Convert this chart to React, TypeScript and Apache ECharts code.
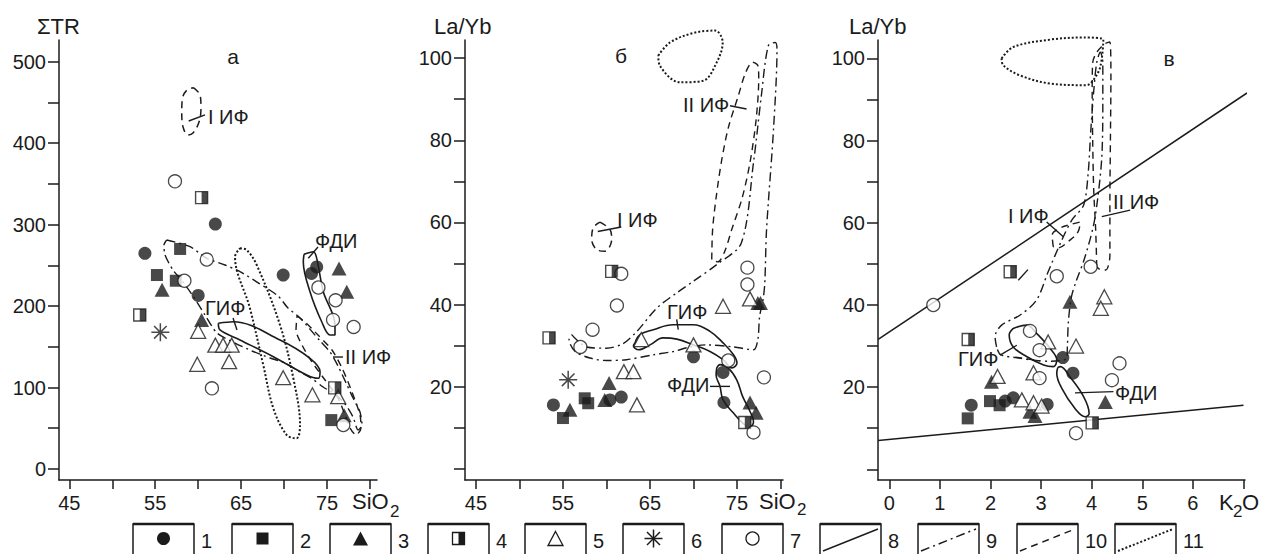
import React, { useEffect, useRef } from "react";
import * as echarts from "echarts";

const INK = "#1b1b1b";
const FONT = '"Liberation Sans", Arial, Helvetica, sans-serif';

// ---------------- Panel а : ΣTR vs SiO2 ----------------
const aXTicks = [45, 50, 55, 60, 65, 70, 75, 80];
const aXLabels = [45, 55, 65, 75];
const aYTicks = [0, 50, 100, 150, 200, 250, 300, 350, 400, 450, 500];
const aYLabels = [0, 100, 200, 300, 400, 500];

const aType1 = [[62.0, 300.6], [53.8, 264.7], [69.9, 238], [73.8, 248], [73.2, 240], [60.0, 213]];
const aType2 = [[57.9, 270], [55.2, 238], [57.4, 231], [75.5, 60]];
const aType3 = [[76.4, 246], [55.8, 220], [60.4, 182.8], [77.3, 217.6], [77.0, 66]];
const aType4 = [[60.4, 333], [53.2, 189], [75.9, 99.5]];
const aType5 = [[60.0, 169], [62.0, 152], [62.9, 152], [63.9, 152], [63.6, 131.7], [59.9, 128.5], [69.9, 112], [73.3, 91], [76.3, 88.7]];
const aType6 = [[55.6, 167.7]];
const aType7 = [[57.3, 353], [61.0, 257], [58.4, 231], [61.6, 99], [74.0, 222.7], [76.0, 207], [75.7, 183], [78.1, 174.3], [76.9, 54]];

const aFieldIIF = [[59.44, 467.9], [60.22, 458.9], [60.33, 442.9], [60.10, 425.8], [59.40, 412.3], [58.82, 409.8], [58.24, 419.6], [58.09, 438.0], [58.18, 455.2], [58.70, 465.0], [59.44, 467.9]];
const aFieldDotted = [[64.87, 270.8], [65.65, 268.7], [66.82, 250.3], [69.53, 176.7], [71.08, 111.3], [71.86, 54.0], [71.47, 37.7], [70.31, 41.7], [68.75, 74.5], [67.58, 127.6], [66.03, 197.2], [64.29, 260.5], [64.87, 270.8]];
const aFieldGIF = [[62.35, 178.8], [64.09, 180.7], [69.53, 158.3], [73.02, 135.8], [74.19, 119.4], [73.99, 111.3], [72.64, 115.3], [68.75, 137.8], [64.87, 158.3], [62.54, 170.6], [62.35, 178.8]];
const aFieldFDI = [[72.32, 263.4], [73.41, 266.6], [73.80, 258.5], [74.57, 217.5], [75.93, 176.7], [75.93, 164.4], [75.35, 164.4], [74.38, 180.7], [73.02, 217.5], [72.24, 254.4], [72.32, 263.4]];
const aFieldDashDot = [[56.34, 281.0], [59.05, 272.8], [61.0, 258.5], [63.13, 250.3], [64.87, 242.1], [66.85, 229.4], [69.3, 212.3], [70.46, 197.5], [71.86, 185.3], [74.19, 157.1], [75.35, 143.6], [76.28, 126.4], [77.33, 103.1], [78.03, 87.1], [78.84, 69.9], [79.07, 54.0], [78.61, 47.9], [78.03, 63.8], [77.1, 79.8], [75.93, 92.0], [74.54, 100.6], [73.14, 111.7], [71.86, 119.0], [70.11, 130.1], [68.37, 136.2], [66.27, 144.8], [64.29, 154.6], [62.19, 166.9], [60.8, 189.0], [59.4, 212.3], [58.24, 229.4], [57.07, 244.2], [56.14, 262.6], [56.02, 274.8], [56.34, 281.0]];
const aFieldDashed = [[71.51, 187.7], [72.44, 180.4], [73.95, 164.4], [75.58, 146.0], [76.75, 123.9], [77.91, 94.5], [78.84, 66.3], [78.96, 50.3], [78.38, 41.7], [77.68, 50.3], [77.1, 66.3], [76.28, 87.1], [74.77, 109.2], [73.25, 131.3], [72.09, 152.1], [71.39, 170.6], [71.51, 187.7]];
const aLeadIIF = [[58.9, 427], [60.8, 434.5]];
const aLeadFDI = [[72.82, 258.5], [73.95, 272.4]];
const aLeadGIF = [[64.06, 185.3], [64.52, 170.6]];
const aLeadIIIF = [[75.7, 137.4], [76.86, 137.4]];

// ---------------- Panel б : La/Yb vs SiO2 ----------------
const bXTicks = [45, 50, 55, 60, 65, 70, 75, 80];
const bXLabels = [45, 55, 65, 75];
const bYTicks = [0, 10, 20, 30, 40, 50, 60, 70, 80, 90, 100];
const bYLabels = [20, 40, 60, 80, 100];

const bType1 = [[53.9, 15.6], [60.4, 16.8], [61.7, 17.5], [70.0, 27.3], [73.4, 23.5], [73.5, 16.2]];
const bType2 = [[55.0, 12.4], [57.5, 17.2], [57.9, 16.0]];
const bType3 = [[55.8, 14.4], [60.3, 20.9], [59.8, 16.8], [76.5, 16.2], [77.2, 13.7], [77.4, 40.4], [77.7, 40.4]];
const bType4 = [[60.6, 48.1], [53.4, 31.9], [75.9, 11.3]];
const bType5 = [[62.0, 23.7], [63.1, 23.7], [63.5, 15.6], [64.0, 31.5], [70.0, 30.2], [73.4, 39.6], [76.5, 41.4]];
const bType6 = [[55.6, 21.7]];
const bType7 = [[61.7, 47.5], [61.2, 39.8], [58.4, 33.9], [57.0, 29.7], [74.0, 26.4], [76.9, 8.9], [78.1, 22.3], [76.2, 49.0], [76.2, 44.9]];

const bFieldIIF = [[59.25, 60.07], [60.4, 58.29], [60.6, 55.85], [59.83, 53.0], [58.87, 53.4], [58.3, 55.85], [58.48, 58.7], [59.25, 60.07]];
const bFieldDotted = [[65.95, 100.6], [67.3, 103.8], [69.98, 106.1], [72.47, 106.7], [73.36, 103.8], [72.67, 98.95], [71.13, 94.5], [68.45, 94.1], [66.15, 98.1], [65.95, 100.6]];
const bFieldDashed = [[72.1, 51.0], [72.2, 58.3], [72.6, 66], [73.2, 74.6], [74.0, 83], [75.15, 90.8], [76.0, 96.5], [76.8, 99.0], [77.4, 98.2], [77.5, 95], [77.2, 85], [76.5, 74.6], [75.6, 66], [74.4, 58.3], [73.6, 53], [72.8, 50.4], [72.1, 51.0]];
const bFieldDashDot = [[56.0, 32.7], [57.7, 29.7], [60.0, 29.4], [61.9, 30.5], [63.5, 33.5], [65.8, 39.2], [68.1, 42.9], [70.0, 45.7], [72.7, 49.8], [75.5, 55.0], [76.9, 74.6], [77.8, 90.8], [78.6, 103.0], [79.4, 103.8], [79.6, 102.2], [79.2, 82.7], [78.4, 58.3], [78.2, 45.4], [78.0, 41.2], [77.6, 37.1], [77.4, 31.5], [76.9, 29.0], [74.6, 29.7], [71.5, 30.2], [69.6, 29.7], [67.7, 28.6], [65.4, 27.8], [62.3, 26.6], [60.0, 26.4], [58.1, 27.0], [56.4, 28.6], [55.7, 31.5], [56.0, 32.7]];
const bFieldGIF = [[63.28, 30.66], [63.85, 32.68], [65.38, 33.9], [67.68, 35.1], [69.98, 35.1], [71.9, 33.5], [73.4, 30.7], [74.6, 27.8], [75.0, 25.8], [74.4, 24.6], [73.4, 26.6], [71.9, 28.6], [70.0, 30.2], [68.1, 31.6], [66.5, 31.9], [65.0, 30.2], [63.7, 29.0], [63.1, 30.0], [63.28, 30.66]];
const bFieldFDI = [[72.67, 24.56], [73.05, 25.4], [74.0, 24.56], [74.97, 21.7], [75.66, 17.6], [76.5, 14.0], [76.9, 11.5], [76.5, 10.3], [75.7, 11.1], [74.6, 13.6], [73.4, 16.8], [73.05, 20.1], [72.6, 22.9], [72.67, 24.56]];
const bLeadIIF = [[59.0, 57.8], [61.7, 58.9]];
const bLeadIIIF = [[74.2, 88.4], [76.1, 87.6]];
const bLeadGIF = [[68.07, 36.4], [68.25, 33.9]];
const bLeadFDI = [[71.9, 20.1], [74.2, 20.1]];

// ---------------- Panel в : La/Yb vs K2O ----------------
const cXTicks = [0, 1, 2, 3, 4, 5, 6, 7];
const cXLabels = [0, 1, 2, 3, 4, 5, 6];
const cYTicks = [0, 10, 20, 30, 40, 50, 60, 70, 80, 90, 100];
const cYLabels = [20, 40, 60, 80, 100];

const cType1 = [[3.43, 27.2], [3.63, 23.4], [1.62, 15.6], [2.29, 16.6], [2.45, 17.4], [3.12, 15.8]];
const cType2 = [[1.55, 12.4], [1.99, 16.6], [2.18, 15.6]];
const cType3 = [[3.57, 40.8], [2.02, 21.3], [4.27, 16.4], [2.78, 14.0], [2.88, 13.0]];
const cType4 = [[2.39, 48.1], [1.56, 31.6], [4.01, 11.3]];
const cType5 = [[4.25, 42.0], [4.18, 39.2], [3.14, 31.0], [3.69, 30.0], [2.85, 23.5], [2.14, 22.6], [2.62, 16.9], [2.85, 16.2], [3.01, 15.4]];
const cType7 = [[3.31, 47.0], [3.98, 49.3], [0.87, 40.0], [2.78, 33.7], [2.97, 29.0], [2.97, 22.2], [4.55, 25.8], [4.4, 21.7], [3.69, 8.8]];

const cLineUpper = [[-0.22, 31.6], [7.07, 91.6]];
const cLineLower = [[-0.22, 7.0], [7.0, 15.6]];
const cFieldDotted = [[2.22, 100.0], [2.45, 102.8], [3.18, 104.6], [3.84, 105.1], [4.23, 104.6], [4.17, 98.0], [4.03, 94.7], [3.9, 93.5], [3.18, 93.9], [2.58, 95.9], [2.25, 98.4], [2.22, 100.0]];
const cFieldDashDot = [[2.12, 29.8], [2.09, 32.3], [2.22, 35.1], [2.58, 37.5], [2.91, 41.2], [3.14, 48.1], [3.41, 55.8], [3.61, 60.7], [3.84, 64.3], [3.93, 72], [3.98, 82], [4.04, 92], [4.1, 99], [4.17, 101.5], [4.22, 99], [4.22, 88], [4.2, 76], [4.12, 66], [4.03, 59], [3.85, 51], [3.7, 46], [3.6, 42], [3.54, 36], [3.52, 30], [3.5, 27], [3.2, 26.3], [2.9, 26.5], [2.5, 27.2], [2.2, 27.9], [2.12, 29.8]];
const cFieldDashed = [[4.1, 49.3], [4.08, 58], [4.04, 68], [4.02, 80], [4.01, 92], [4.02, 99], [4.1, 101.5], [4.25, 103.5], [4.36, 104], [4.38, 95], [4.37, 80], [4.36, 65], [4.36, 52], [4.28, 48.5], [4.17, 48.6], [4.1, 49.3]];
const cFieldIIF = [[3.24, 54.2], [3.22, 57.0], [3.37, 58.7], [3.61, 59.7], [3.77, 60.2], [3.73, 57.8], [3.53, 55.4], [3.34, 53.9], [3.24, 54.2]];
const cFieldGIF = [[2.45, 34.3], [2.72, 35.1], [2.91, 33.1], [3.18, 29.4], [3.31, 26.6], [3.24, 25.0], [3.05, 25.4], [2.72, 27.4], [2.45, 29.8], [2.37, 32.7], [2.45, 34.3]];
const cFieldFDI = [[3.33, 24.8], [3.38, 25.0], [3.57, 22.5], [3.84, 17.7], [3.95, 13.6], [3.87, 12.8], [3.67, 14.8], [3.41, 19.7], [3.31, 23.4], [3.33, 24.8]];
const cLeadIIF = [[3.11, 60.2], [3.44, 56.6]];
const cLeadIIIF = [[4.2, 61.5], [4.76, 63.1]];
const cLeadGIF = [[2.19, 27.8], [2.52, 30.2]];
const cLeadGIF2 = [[2.49, 27.3], [2.98, 26.4]];
const cLeadFDI = [[3.67, 18.6], [4.43, 18.9]];
const cLeadHalf = [[2.55, 46.0], [2.74, 48.6]];

const legendNumbers = ["1", "2", "3", "4", "5", "6", "7", "8", "9", "10", "11"];

// ---------------- styling helpers ----------------
const DASHDOT = [9, 4, 2, 4];
const DASHED = [7, 5];
const DOTTED = [2, 2];
const ASTERISK = "path://M10 0 L10 20 M0 10 L20 10 M3 3 L17 17 M3 17 L17 3";

function marks(g: number, data: number[][], kind: number): any[] {
  const base = { type: "scatter", xAxisIndex: g, yAxisIndex: g, data, z: 5, silent: true };
  switch (kind) {
    case 1:
      return [{ ...base, symbol: "circle", symbolSize: 13, itemStyle: { color: INK } }];
    case 2:
      return [{ ...base, symbol: "rect", symbolSize: 12, itemStyle: { color: INK } }];
    case 3:
      return [{ ...base, symbol: "triangle", symbolSize: [15, 14], itemStyle: { color: INK } }];
    case 4:
      return [
        { ...base, symbol: "rect", symbolSize: 12, itemStyle: { color: "#fff", borderColor: INK, borderWidth: 1.4 } },
        { ...base, z: 6, symbol: "rect", symbolSize: [6, 12], symbolOffset: [3, 0], itemStyle: { color: INK } },
      ];
    case 5:
      return [{ ...base, symbol: "triangle", symbolSize: [15, 14], itemStyle: { color: "#fff", borderColor: INK, borderWidth: 1.3 } }];
    case 6:
      return [{ ...base, symbol: ASTERISK, symbolSize: 18, itemStyle: { color: "rgba(0,0,0,0)", borderColor: INK, borderWidth: 1.5 } }];
    default:
      return [{ ...base, symbol: "circle", symbolSize: 13, itemStyle: { color: "#fff", borderColor: INK, borderWidth: 1.3 } }];
  }
}

function outline(g: number, data: number[][], dash: any, width = 1.5, smooth: any = 0.35): any {
  return {
    type: "line",
    xAxisIndex: g,
    yAxisIndex: g,
    data,
    symbol: "none",
    smooth,
    clip: false,
    silent: true,
    z: 3,
    lineStyle: { color: INK, width, type: dash },
  };
}

function xAxis(g: number, min: number, max: number, ticks: number[], labels: number[]) {
  return {
    gridIndex: g,
    type: "value",
    min,
    max,
    axisLine: { show: true, onZero: false, lineStyle: { color: INK, width: 1.5 } },
    axisTick: { show: true, length: 9, customValues: ticks, lineStyle: { color: INK, width: 1.5 } },
    axisLabel: { customValues: labels, margin: 13, fontSize: 20, color: INK, fontFamily: FONT },
    splitLine: { show: false },
  };
}

function yAxis(g: number, min: number, max: number, ticks: number[], labels: number[]) {
  return {
    gridIndex: g,
    type: "value",
    min,
    max,
    axisLine: { show: true, onZero: false, lineStyle: { color: INK, width: 1.5 } },
    axisTick: { show: true, length: 11, customValues: ticks, lineStyle: { color: INK, width: 1.5 } },
    axisLabel: { customValues: labels, margin: 13, fontSize: 20, color: INK, fontFamily: FONT },
    splitLine: { show: false },
  };
}

function txt(text: string, x: number, y: number, size = 20, align = "left"): any {
  return {
    type: "text",
    x,
    y,
    z: 20,
    silent: true,
    style: { text, font: `${size}px ${FONT}`, fill: INK, textAlign: align, textVerticalAlign: "middle" },
  };
}

function legendGraphics(): any[] {
  const out: any[] = [];
  const boxX = [133, 232, 330, 428, 525, 623, 722, 820, 918, 1017, 1115];
  const top = 524;
  const w = 61;
  boxX.forEach((x, i) => {
    out.push({
      type: "rect",
      shape: { x, y: top, width: w, height: 40 },
      style: { fill: "#fff", stroke: INK, lineWidth: 1.5 },
      z: 20,
      silent: true,
    });
    out.push({
      type: "line",
      shape: { x1: x, y1: top, x2: x + w, y2: top },
      style: { stroke: INK, lineWidth: 2.5 },
      z: 21,
      silent: true,
    });
    const cx = x + w / 2;
    const cy = 538.5;
    const ink = { fill: INK };
    const hollow = { fill: "#fff", stroke: INK, lineWidth: 1.3 };
    const icons: any[] = [];
    switch (i) {
      case 0:
        icons.push({ type: "circle", shape: { cx, cy, r: 6.5 }, style: ink });
        break;
      case 1:
        icons.push({ type: "rect", shape: { x: cx - 6, y: cy - 6, width: 12, height: 12 }, style: ink });
        break;
      case 2:
        icons.push({ type: "polygon", shape: { points: [[cx, cy - 7], [cx + 7.5, cy + 7], [cx - 7.5, cy + 7]] }, style: ink });
        break;
      case 3:
        icons.push({ type: "rect", shape: { x: cx - 6, y: cy - 6, width: 12, height: 12 }, style: hollow });
        icons.push({ type: "rect", shape: { x: cx, y: cy - 6, width: 6, height: 12 }, style: ink });
        break;
      case 4:
        icons.push({ type: "polygon", shape: { points: [[cx, cy - 7], [cx + 7.5, cy + 7], [cx - 7.5, cy + 7]] }, style: hollow });
        break;
      case 5: {
        const st = { stroke: INK, lineWidth: 1.5 };
        icons.push({ type: "line", shape: { x1: cx, y1: cy - 9, x2: cx, y2: cy + 9 }, style: st });
        icons.push({ type: "line", shape: { x1: cx - 9, y1: cy, x2: cx + 9, y2: cy }, style: st });
        icons.push({ type: "line", shape: { x1: cx - 6.5, y1: cy - 6.5, x2: cx + 6.5, y2: cy + 6.5 }, style: st });
        icons.push({ type: "line", shape: { x1: cx - 6.5, y1: cy + 6.5, x2: cx + 6.5, y2: cy - 6.5 }, style: st });
        break;
      }
      case 6:
        icons.push({ type: "circle", shape: { cx, cy, r: 6.5 }, style: hollow });
        break;
      default: {
        const dash = [null, null, null, null, null, null, null, null, DASHDOT, DASHED, DOTTED][i];
        const wid = i === 10 ? 2 : 1.5;
        const style: any = { stroke: INK, lineWidth: wid };
        if (dash) style.lineDash = dash;
        icons.push({
          type: "line",
          shape: { x1: x + 3, y1: 551, x2: x + w - 3, y2: 529 },
          style,
        });
      }
    }
    icons.forEach((el, k) => {
      el.z = 22 + k;
      el.silent = true;
      out.push(el);
    });
    out.push(txt(legendNumbers[i], x + w + 7, 541, 20));
  });
  return out;
}

export default function App() {
  const ref = useRef<HTMLDivElement>(null);
  useEffect(() => {
    if (!ref.current) return;
    const chart = echarts.init(ref.current, undefined, { renderer: "svg" });

    const series: any[] = [
      // panel а
      outline(0, aFieldIIF, DASHED),
      outline(0, aFieldDotted, DOTTED, 2),
      outline(0, aFieldGIF, "solid", 1.6),
      outline(0, aFieldFDI, "solid", 1.6),
      outline(0, aFieldDashDot, DASHDOT, 1.4, 0.25),
      outline(0, aFieldDashed, DASHED, 1.4, 0.25),
      outline(0, aLeadIIF, "solid", 1.4, false),
      outline(0, aLeadFDI, "solid", 1.4, false),
      outline(0, aLeadGIF, "solid", 1.4, false),
      outline(0, aLeadIIIF, "solid", 1.4, false),
      ...marks(0, aType1, 1),
      ...marks(0, aType2, 2),
      ...marks(0, aType3, 3),
      ...marks(0, aType4, 4),
      ...marks(0, aType5, 5),
      ...marks(0, aType6, 6),
      ...marks(0, aType7, 7),
      // panel б
      outline(1, bFieldIIF, DASHED),
      outline(1, bFieldDotted, DOTTED, 2),
      outline(1, bFieldDashed, DASHED, 1.4, 0.3),
      outline(1, bFieldDashDot, DASHDOT, 1.4, 0.3),
      outline(1, bFieldGIF, "solid", 1.6, 0.4),
      outline(1, bFieldFDI, "solid", 1.6, 0.4),
      outline(1, bLeadIIF, "solid", 1.4, false),
      outline(1, bLeadIIIF, "solid", 1.4, false),
      outline(1, bLeadGIF, "solid", 1.4, false),
      outline(1, bLeadFDI, "solid", 1.4, false),
      ...marks(1, bType1, 1),
      ...marks(1, bType2, 2),
      ...marks(1, bType3, 3),
      ...marks(1, bType4, 4),
      ...marks(1, bType5, 5),
      ...marks(1, bType6, 6),
      ...marks(1, bType7, 7),
      // panel в
      outline(2, cLineUpper, "solid", 1.5, false),
      outline(2, cLineLower, "solid", 1.5, false),
      outline(2, cFieldDotted, DOTTED, 2),
      outline(2, cFieldDashDot, DASHDOT, 1.4, 0.3),
      outline(2, cFieldDashed, DASHED, 1.4, 0.3),
      outline(2, cFieldIIF, DASHED, 1.4, 0.4),
      outline(2, cFieldGIF, "solid", 1.6, 0.4),
      outline(2, cFieldFDI, "solid", 1.6, 0.4),
      outline(2, cLeadIIF, "solid", 1.4, false),
      outline(2, cLeadIIIF, "solid", 1.4, false),
      outline(2, cLeadGIF, "solid", 1.4, false),
      outline(2, cLeadGIF2, DASHED, 1.4, false),
      outline(2, cLeadFDI, "solid", 1.4, false),
      outline(2, cLeadHalf, "solid", 1.4, false),
      ...marks(2, cType1, 1),
      ...marks(2, cType2, 2),
      ...marks(2, cType3, 3),
      ...marks(2, cType4, 4),
      ...marks(2, cType5, 5),
      ...marks(2, cType7, 7),
    ];

    const graphic: any[] = [
      // axis names
      txt("ΣTR", 37, 26, 22),
      txt("La/Yb", 434, 26, 22),
      txt("La/Yb", 849, 26, 22),
      txt("SiO", 352, 501, 22),
      txt("2", 390, 511, 17),
      txt("SiO", 759, 501, 22),
      txt("2", 797, 509, 17),
      txt("K", 1219, 502, 22),
      txt("2", 1233, 511, 17),
      txt("O", 1242, 502, 22),
      // panel letters
      txt("а", 233, 56, 21, "center"),
      txt("б", 621, 55, 21, "center"),
      txt("в", 1169, 58, 21, "center"),
      // field labels а
      txt("I ИФ", 208, 117),
      txt("ФДИ", 315, 241),
      txt("ГИФ", 205, 308),
      txt("II ИФ", 345, 357),
      // field labels б
      txt("I ИФ", 617, 220),
      txt("II ИФ", 683, 105),
      txt("ГИФ", 667, 312),
      txt("ФДИ", 667, 385),
      // field labels в
      txt("I ИФ", 1008, 216),
      txt("II ИФ", 1113, 202),
      txt("ГИФ", 958, 359),
      txt("ФДИ", 1115, 393),
      ...legendGraphics(),
    ];

    chart.setOption({
      animation: false,
      backgroundColor: "#fff",
      grid: [
        { left: 59, top: 40, width: 318, height: 440, containLabel: false },
        { left: 465, top: 40, width: 318, height: 440, containLabel: false },
        { left: 878, top: 40, width: 367, height: 440, containLabel: false },
      ],
      xAxis: [
        xAxis(0, 43.8, 80.82, aXTicks, aXLabels),
        xAxis(1, 43.74, 80.29, bXTicks, bXLabels),
        xAxis(2, -0.223, 7.03, cXTicks, cXLabels),
      ],
      yAxis: [
        yAxis(0, -13.5, 526.4, aYTicks, aYLabels),
        yAxis(1, -2.68, 104.4, bYTicks, bYLabels),
        yAxis(2, -2.6, 104.5, cYTicks, cYLabels),
      ],
      series,
      graphic,
    });
    return () => chart.dispose();
  }, []);
  return (
    <div
      ref={ref}
      style={{ position: "absolute", left: 0, top: 0, width: 1269, height: 554, background: "#fff" }}
    />
  );
}
